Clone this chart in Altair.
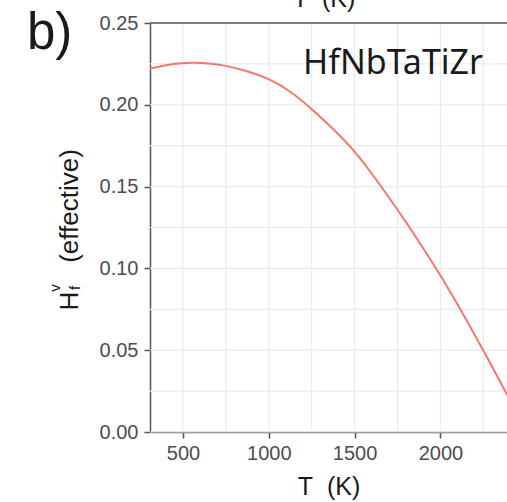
import altair as alt
import pandas as pd

# Curve
T_vals = [308, 400, 500, 560, 650, 750, 850, 1000, 1125, 1250, 1375, 1500,
          1625, 1750, 1875, 2000, 2125, 2250, 2390]
H_vals = [0.2221, 0.2244, 0.2256, 0.2258, 0.2254, 0.2240, 0.2214, 0.2163,
          0.2085, 0.1975, 0.1855, 0.1720, 0.1545, 0.1360, 0.1165, 0.0960,
          0.0735, 0.0500, 0.0225]

x_major = [500, 1000, 1500, 2000]
x_minor = [750, 1250, 1750, 2250]
y_major = [0.0, 0.05, 0.10, 0.15, 0.20, 0.25]
y_minor = [0.025, 0.075, 0.125, 0.175, 0.225]

X_DOM = [308, 2388]
Y_DOM = [0, 0.25]

df = pd.DataFrame({"T": T_vals, "H": H_vals})
xs = alt.Scale(domain=X_DOM, nice=False, zero=False)
ys = alt.Scale(domain=Y_DOM, nice=False, zero=False)

FONT = "Liberation Sans"
NB = "\u00a0"

vgrid = alt.Chart(pd.DataFrame({"v": x_major + x_minor})).mark_rule(
    color="#EBEBEB", strokeWidth=1.2
).encode(x=alt.X("v:Q", scale=xs))

hgrid = alt.Chart(pd.DataFrame({"v": y_major + y_minor})).mark_rule(
    color="#EBEBEB", strokeWidth=1.2
).encode(y=alt.Y("v:Q", scale=ys))

top_line = alt.Chart(pd.DataFrame({"v": [0.25]})).mark_rule(
    color="#555555", strokeWidth=1.5
).encode(y=alt.Y("v:Q", scale=ys))

line = alt.Chart(df).mark_line(color="#F8766D", strokeWidth=2,
                               interpolate="basis", clip=True).encode(
    x=alt.X("T:Q", scale=xs,
            axis=alt.Axis(values=x_major, format="d", title=f"T{NB}{NB}(K)", grid=False,
                          labelFontSize=20, labelColor="#4D4D4D", labelFont=FONT,
                          labelPadding=5, tickSize=6, tickColor="#555555",
                          domainColor="#555555", domainWidth=1.5, tickWidth=1.5,
                          titleFontSize=25, titleFont=FONT, titleFontWeight="normal",
                          titleColor="#1a1a1a", titlePadding=11)),
    y=alt.Y("H:Q", scale=ys,
            axis=alt.Axis(values=y_major, format=".2f", title=None, grid=False,
                          labelFontSize=20, labelColor="#4D4D4D", labelFont=FONT,
                          labelPadding=6, tickSize=6, tickColor="#555555",
                          domainColor="#555555", domainWidth=1.5, tickWidth=1.5)),
)

one = alt.Data(values=[{"a": 1}])

def txt(text, x, y, size, angle=0, align="left", baseline="alphabetic",
        font=FONT, color="#1a1a1a"):
    kw = dict(text=text, fontSize=size, font=font, color=color, align=align,
              baseline=baseline)
    if angle:
        kw["angle"] = angle
    return alt.Chart(one).mark_text(**kw).encode(x=alt.value(x), y=alt.value(y))

# annotations (pixel positions relative to the plot area at (150, 23))
label_b = txt("b)", -123, 26, 51)
label_alloy = txt("HfNbTaTiZr", 153, 51, 34, font="Noto Sans")
top_title = txt(f"T{NB}{NB}(K)", 174, -16, 25, align="center")
y_eff = txt("(effective)", -72, 183, 26, angle=270, align="center")
y_H = txt("H", -72, 278, 26, angle=270, align="center")
y_v = txt("v", -90, 265, 15, angle=270, align="center")
y_f = txt("f", -70, 265, 15, angle=270, align="center")

chart = alt.layer(vgrid, hgrid, top_line, line, label_b, label_alloy, top_title,
                  y_eff, y_H, y_v, y_f).properties(
    width=357, height=409,
    padding={"left": 150, "top": 23, "right": 0, "bottom": 70},
    autosize=alt.AutoSizeParams(type="none"),
    background="white",
).configure_view(stroke=None)

chart.save("out.html", embed_options={"renderer": "svg", "actions": False})
